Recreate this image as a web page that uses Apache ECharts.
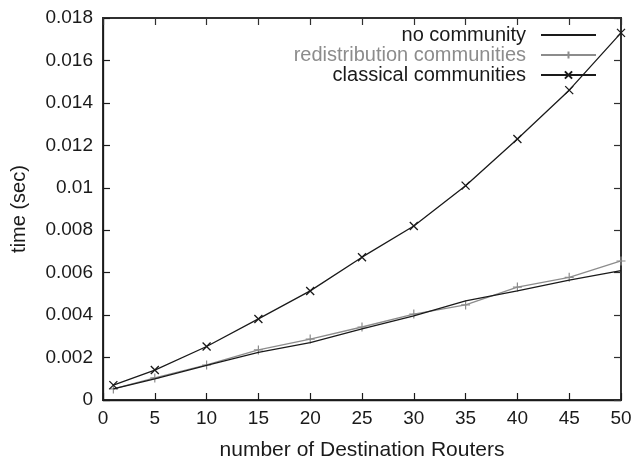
<!DOCTYPE html>
<html><head><meta charset="utf-8">
<script src="https://cdn.jsdelivr.net/npm/echarts@6/dist/echarts.min.js"></script>
<style>html,body{margin:0;padding:0;background:#fff}#c{width:634px;height:460px}</style>
</head><body><div id="c"></div>
<script>
const xs = [1, 5, 10, 15, 20, 25, 30, 35, 40, 45, 50];
const noCommunity = [0.00052, 0.00099, 0.00163, 0.00224, 0.00270, 0.00335, 0.00396, 0.00467, 0.00514, 0.00565, 0.00610];
const redistribution = [0.00052, 0.00104, 0.00165, 0.00236, 0.00287, 0.00344, 0.00405, 0.00448, 0.00532, 0.00578, 0.00655];
const classical = [0.00070, 0.00141, 0.00252, 0.00382, 0.00514, 0.00673, 0.00820, 0.01010, 0.01230, 0.01460, 0.01730];
const seriesNames = ['no community', 'redistribution communities', 'classical communities'];
const xTitle = 'number of Destination Routers';
const yTitle = 'time (sec)';

const pair = arr => xs.map((x, i) => [x, arr[i]]);
const FONT = '"Liberation Sans", Arial, sans-serif';
const plusPath = 'path://M5,0L5,10M0,5L10,5';
const crossPath = 'path://M0,0L10,10M10,0L0,10';
const ink = '#1a1a1a';
const frame = '#303030';
const grey = '#8c8c8c';

const chart = echarts.init(document.getElementById('c'), null, {renderer: 'canvas'});
function axisLineStyle(c, w) { return {show: true, onZero: false, lineStyle: {color: c || ink, width: w || 1.3}}; }
function tickIn(c) { return {show: true, inside: true, length: 7, lineStyle: {color: c || ink, width: 1.2}}; }
const hiddenLabel = {show: true, color: 'rgba(255,255,255,0)', fontSize: 1, margin: 0};
function legendFor(item, top, col) {
  return {
    data: [item], right: 37, top: top, orient: 'vertical', align: 'right',
    itemWidth: 55, itemHeight: 9, padding: 0,
    textStyle: {fontFamily: FONT, fontSize: 20, color: col, padding: [0, 10, 0, 0]}
  };
}
chart.setOption({
  animation: false,
  backgroundColor: '#fff',
  grid: {left: 103, right: 13, top: 18, bottom: 60, containLabel: false, outerBoundsMode: 'none',
         show: true, borderColor: frame, borderWidth: 2, backgroundColor: 'rgba(0,0,0,0)'},
  legend: [
    legendFor({name: seriesNames[0]}, 25, ink),
    legendFor({name: seriesNames[1]}, 45, grey),
    legendFor({name: seriesNames[2]}, 65, ink)
  ],
  xAxis: [
    {type: 'value', min: 0, max: 50, interval: 5, position: 'bottom',
     axisLine: axisLineStyle(), axisTick: tickIn(), splitLine: {show: false},
     axisLabel: {fontFamily: FONT, fontSize: 19, color: ink, margin: 9},
     name: xTitle, nameLocation: 'middle', nameGap: 40,
     nameTextStyle: {fontFamily: FONT, fontSize: 21, color: ink}},
    {type: 'value', show: true, gridIndex: 0, min: 0, max: 50, interval: 5, position: 'top',
     axisLine: axisLineStyle(frame, 1.5), axisTick: tickIn(frame), splitLine: {show: false}, axisLabel: hiddenLabel}
  ],
  yAxis: [
    {type: 'value', min: 0, max: 0.018, interval: 0.002, position: 'left',
     axisLine: axisLineStyle(), axisTick: tickIn(), splitLine: {show: false},
     axisLabel: {fontFamily: FONT, fontSize: 19, color: ink, margin: 10},
     name: yTitle, nameLocation: 'middle', nameGap: 74, nameRotate: 90,
     nameTextStyle: {fontFamily: FONT, fontSize: 20, color: ink}},
    {type: 'value', show: true, gridIndex: 0, min: 0, max: 0.018, interval: 0.002, position: 'right',
     axisLine: axisLineStyle(frame, 1.5), axisTick: tickIn(frame), splitLine: {show: false}, axisLabel: hiddenLabel}
  ],
  series: [
    {name: seriesNames[0], type: 'line', data: pair(noCommunity), xAxisIndex: 1, yAxisIndex: 1,
     symbol: 'circle', showSymbol: false,
     lineStyle: {color: ink, width: 1.3},
     itemStyle: {color: 'rgba(0,0,0,0)', borderWidth: 0}, z: 3},
    {name: seriesNames[1], type: 'line', data: pair(redistribution), symbol: plusPath, symbolSize: 9,
     lineStyle: {color: grey, width: 1.3},
     itemStyle: {color: 'rgba(0,0,0,0)', borderColor: grey, borderWidth: 1.2}, z: 2},
    {name: seriesNames[2], type: 'line', data: pair(classical), symbol: crossPath, symbolSize: 8,
     lineStyle: {color: ink, width: 1.3},
     itemStyle: {color: 'rgba(0,0,0,0)', borderColor: ink, borderWidth: 1.3}, z: 4}
  ]
});
</script></body></html>
